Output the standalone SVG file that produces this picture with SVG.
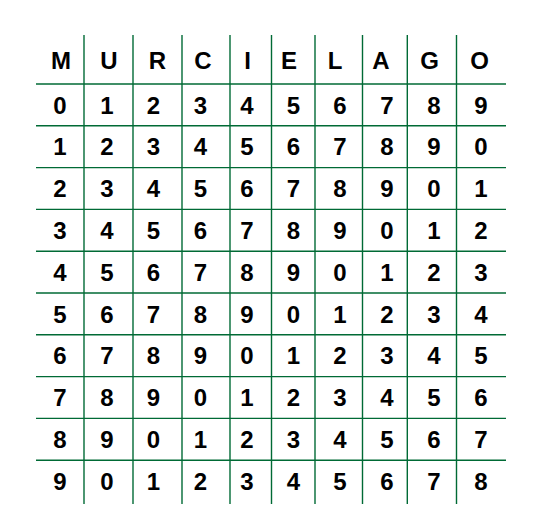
<svg xmlns="http://www.w3.org/2000/svg" width="533" height="531" viewBox="0 0 533 531">
<style>
.g{stroke:#006a35;stroke-width:1.4;fill:none}
text{font-family:"Liberation Sans",Arial,sans-serif;font-weight:bold;font-size:24px;fill:#000;text-anchor:middle}
</style>
<rect width="533" height="531" fill="#fff"/>
<g id="grid" class="g">
<line x1="84" y1="35" x2="84" y2="504"/>
<line x1="133" y1="35" x2="133" y2="504"/>
<line x1="182" y1="35" x2="182" y2="504"/>
<line x1="230" y1="35" x2="230" y2="504"/>
<line x1="271.5" y1="35" x2="271.5" y2="504"/>
<line x1="315" y1="35" x2="315" y2="504"/>
<line x1="362.5" y1="35" x2="362.5" y2="504"/>
<line x1="407.3" y1="35" x2="407.3" y2="504"/>
<line x1="456.5" y1="35" x2="456.5" y2="504"/>
<line x1="36" y1="84" x2="506" y2="84"/>
<line x1="36" y1="125.8" x2="506" y2="125.8"/>
<line x1="36" y1="167.6" x2="506" y2="167.6"/>
<line x1="36" y1="209.4" x2="506" y2="209.4"/>
<line x1="36" y1="251.2" x2="506" y2="251.2"/>
<line x1="36" y1="293" x2="506" y2="293"/>
<line x1="36" y1="334.8" x2="506" y2="334.8"/>
<line x1="36" y1="376.6" x2="506" y2="376.6"/>
<line x1="36" y1="418.4" x2="506" y2="418.4"/>
<line x1="36" y1="460.2" x2="506" y2="460.2"/>
</g>
<g id="header">
<text x="61" y="69.3">M</text><text x="109" y="69.3">U</text><text x="157.5" y="69.3">R</text><text x="203" y="69.3">C</text><text x="247.5" y="69.3">I</text><text x="289" y="69.3">E</text><text x="335" y="69.3">L</text><text x="381" y="69.3">A</text><text x="429.5" y="69.3">G</text><text x="479.5" y="69.3">O</text>
</g>
<g id="row0"><text x="60" y="113.5">0</text><text x="107" y="113.5">1</text><text x="153.5" y="113.5">2</text><text x="200.5" y="113.5">3</text><text x="247" y="113.5">4</text><text x="293.5" y="113.5">5</text><text x="340" y="113.5">6</text><text x="387" y="113.5">7</text><text x="434" y="113.5">8</text><text x="481" y="113.5">9</text></g>
<g id="row1"><text x="60" y="155.3">1</text><text x="107" y="155.3">2</text><text x="153.5" y="155.3">3</text><text x="200.5" y="155.3">4</text><text x="247" y="155.3">5</text><text x="293.5" y="155.3">6</text><text x="340" y="155.3">7</text><text x="387" y="155.3">8</text><text x="434" y="155.3">9</text><text x="481" y="155.3">0</text></g>
<g id="row2"><text x="60" y="197.1">2</text><text x="107" y="197.1">3</text><text x="153.5" y="197.1">4</text><text x="200.5" y="197.1">5</text><text x="247" y="197.1">6</text><text x="293.5" y="197.1">7</text><text x="340" y="197.1">8</text><text x="387" y="197.1">9</text><text x="434" y="197.1">0</text><text x="481" y="197.1">1</text></g>
<g id="row3"><text x="60" y="238.9">3</text><text x="107" y="238.9">4</text><text x="153.5" y="238.9">5</text><text x="200.5" y="238.9">6</text><text x="247" y="238.9">7</text><text x="293.5" y="238.9">8</text><text x="340" y="238.9">9</text><text x="387" y="238.9">0</text><text x="434" y="238.9">1</text><text x="481" y="238.9">2</text></g>
<g id="row4"><text x="60" y="280.7">4</text><text x="107" y="280.7">5</text><text x="153.5" y="280.7">6</text><text x="200.5" y="280.7">7</text><text x="247" y="280.7">8</text><text x="293.5" y="280.7">9</text><text x="340" y="280.7">0</text><text x="387" y="280.7">1</text><text x="434" y="280.7">2</text><text x="481" y="280.7">3</text></g>
<g id="row5"><text x="60" y="322.5">5</text><text x="107" y="322.5">6</text><text x="153.5" y="322.5">7</text><text x="200.5" y="322.5">8</text><text x="247" y="322.5">9</text><text x="293.5" y="322.5">0</text><text x="340" y="322.5">1</text><text x="387" y="322.5">2</text><text x="434" y="322.5">3</text><text x="481" y="322.5">4</text></g>
<g id="row6"><text x="60" y="364.3">6</text><text x="107" y="364.3">7</text><text x="153.5" y="364.3">8</text><text x="200.5" y="364.3">9</text><text x="247" y="364.3">0</text><text x="293.5" y="364.3">1</text><text x="340" y="364.3">2</text><text x="387" y="364.3">3</text><text x="434" y="364.3">4</text><text x="481" y="364.3">5</text></g>
<g id="row7"><text x="60" y="406.1">7</text><text x="107" y="406.1">8</text><text x="153.5" y="406.1">9</text><text x="200.5" y="406.1">0</text><text x="247" y="406.1">1</text><text x="293.5" y="406.1">2</text><text x="340" y="406.1">3</text><text x="387" y="406.1">4</text><text x="434" y="406.1">5</text><text x="481" y="406.1">6</text></g>
<g id="row8"><text x="60" y="447.9">8</text><text x="107" y="447.9">9</text><text x="153.5" y="447.9">0</text><text x="200.5" y="447.9">1</text><text x="247" y="447.9">2</text><text x="293.5" y="447.9">3</text><text x="340" y="447.9">4</text><text x="387" y="447.9">5</text><text x="434" y="447.9">6</text><text x="481" y="447.9">7</text></g>
<g id="row9"><text x="60" y="489.7">9</text><text x="107" y="489.7">0</text><text x="153.5" y="489.7">1</text><text x="200.5" y="489.7">2</text><text x="247" y="489.7">3</text><text x="293.5" y="489.7">4</text><text x="340" y="489.7">5</text><text x="387" y="489.7">6</text><text x="434" y="489.7">7</text><text x="481" y="489.7">8</text></g>
</svg>
